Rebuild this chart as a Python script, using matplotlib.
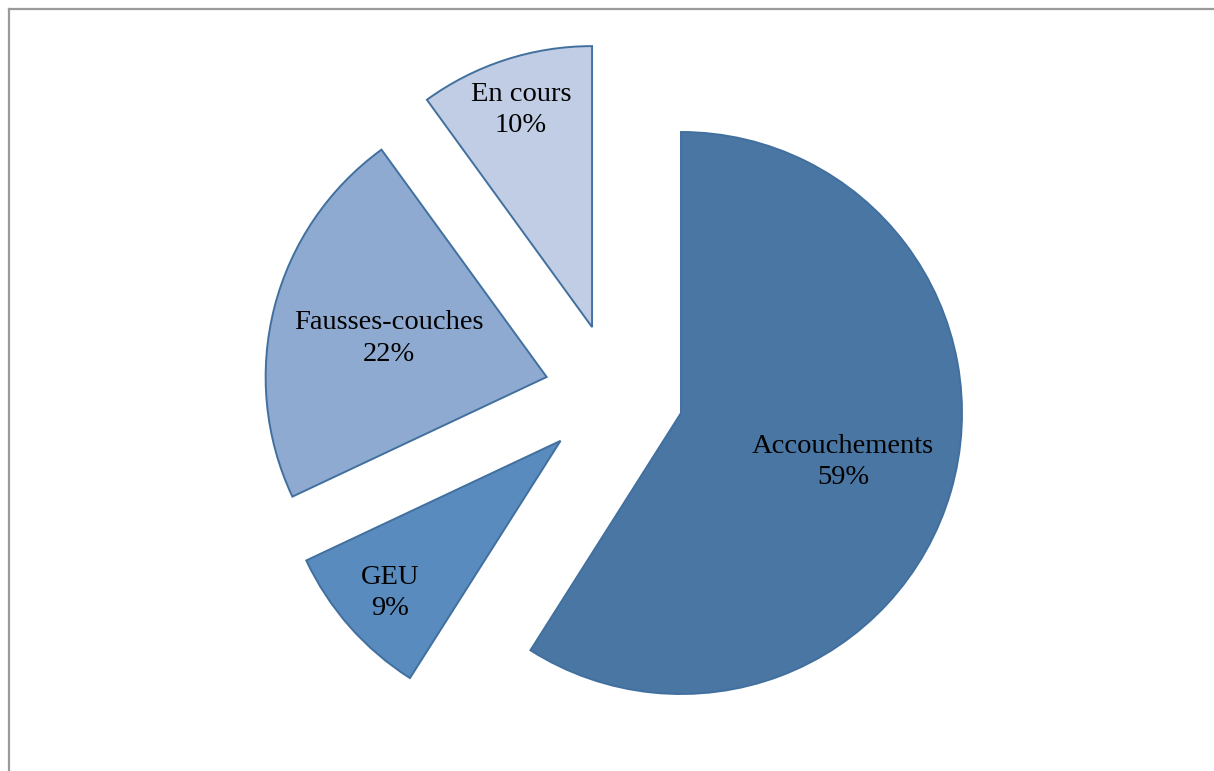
import matplotlib
matplotlib.use("Agg")
import matplotlib.pyplot as plt
from matplotlib.lines import Line2D
import numpy as np

# Répartition des issues de grossesse
categories = ["Accouchements", "GEU", "Fausses-couches", "En cours"]
percentages = [59, 9, 22, 10]

colors = ["#4A76A4", "#5A8BBE", "#8FAAD1", "#C0CDE4"]
edge_color = "#41709F"

W, H = 1214, 771
R = 281                    # rayon en pixels
CENTER = (681, H - 413)    # centre du secteur principal

# Décalage de chaque secteur détaché (distance en rayons, direction en degrés)
explode_dist = [0.0, 0.44, 0.495, 0.44]
explode_dir = [0.0, 193.0, 165.0, 136.0]
# Distance du libellé depuis le sommet de chaque secteur (en rayons)
label_dist = [0.60, 0.81, 0.58, 0.82]

fig = plt.figure(figsize=(W / 100, H / 100), dpi=100)
ax = fig.add_axes([0, 0, 1, 1])

wedges, _ = ax.pie(
    percentages,
    radius=R,
    center=CENTER,
    startangle=90,
    counterclock=False,
    colors=colors,
    wedgeprops=dict(edgecolor=edge_color, linewidth=1.4),
    normalize=True,
    frame=True,
)
ax.set_xlim(0, W)
ax.set_ylim(0, H)
ax.set_aspect("equal")
ax.axis("off")

for w, name, pct, d, a, ld in zip(wedges, categories, percentages,
                                  explode_dist, explode_dir, label_dist):
    cx = CENTER[0] + d * R * np.cos(np.radians(a))
    cy = CENTER[1] + d * R * np.sin(np.radians(a))
    w.set_center((cx, cy))
    mid = np.radians((w.theta1 + w.theta2) / 2)
    lx = cx + ld * R * np.cos(mid)
    ly = cy + ld * R * np.sin(mid) - 2
    ax.text(lx, ly, f"{name}\n{pct}%", ha="center", va="center",
            fontsize=20.5, family=["Liberation Serif", "DejaVu Serif"],
            color="#000000", linespacing=1.32)

# Cadre gris de la zone du graphique
frame_kw = dict(color="#9A9A9A", linewidth=1.6, transform=None)
fig.add_artist(Line2D([8.5, 8.5], [0, H - 8.5], **frame_kw))
fig.add_artist(Line2D([8.5, W], [H - 8.5, H - 8.5], **frame_kw))

fig.savefig("out.png", dpi=100)
